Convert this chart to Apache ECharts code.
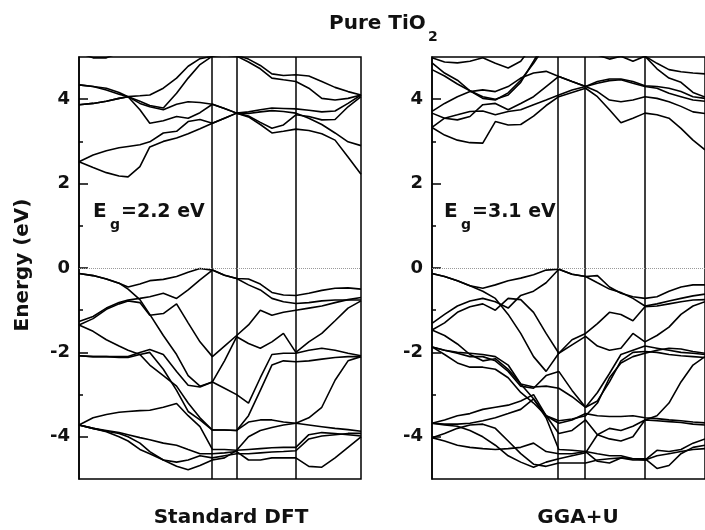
<!DOCTYPE html>
<html><head><meta charset="utf-8">
<script src="https://cdn.jsdelivr.net/npm/echarts@6/dist/echarts.min.js"></script>
<style>html,body{margin:0;padding:0;background:#fff}#c{width:705px;height:530px}</style>
</head><body><div id="c"></div>
<script>
// k-path positions (fraction of path length)
const kLeft = [0, .050, .097, .142, .174, .216, .251, .299, .346, .387, .429, .473, .516, .559, .601, .643, .684, .725, .769, .815, .861, .908, .954, 1];
const kRight = [0, .046, .093, .139, .186, .232, .279, .325, .372, .418, .4645, .513, .5626, .606, .650, .692, .736, .78, .824, .868, .912, .956, 1.0];
const symLeft = [0.473, 0.559, 0.769];
const symRight = [0.4645, 0.5626, 0.78];
const yTickLabels = [-4, -2, 0, 2, 4];
const yMinorTicks = [-3, -1, 1, 3];

// Standard DFT bands (eV)
const L_c1 = [2.52, 2.38, 2.26, 2.18, 2.16, 2.40, 2.87, 3.00, 3.08, 3.18, 3.30, 3.43, 3.55, 3.67, 3.58, 3.40, 3.20, 3.24, 3.29, 3.26, 3.18, 3.03, 2.63, 2.22];
const L_c2 = [2.52, 2.68, 2.78, 2.85, 2.88, 2.92, 2.99, 3.20, 3.24, 3.47, 3.52, 3.43, 3.55, 3.67, 3.70, 3.75, 3.79, 3.78, 3.77, 3.74, 3.70, 3.72, 3.90, 4.10];
const L_c3 = [4.34, 4.30, 4.26, 4.16, 4.06, 3.75, 3.43, 3.49, 3.59, 3.55, 3.68, 3.88, 3.78, 3.67, 3.60, 3.45, 3.31, 3.39, 3.63, 3.59, 3.51, 3.52, 3.82, 4.06];
const L_c4 = [3.87, 3.90, 3.95, 4.02, 4.06, 3.90, 3.82, 3.75, 3.88, 3.94, 3.92, 3.88, 3.78, 3.67, 3.66, 3.70, 3.73, 3.71, 3.67, 3.55, 3.40, 3.20, 2.99, 2.90];
const L_c5 = [4.34, 4.30, 4.22, 4.12, 4.06, 4.08, 4.10, 4.26, 4.50, 4.78, 4.96, 5.02, 5.05, 5.02, 4.88, 4.72, 4.50, 4.46, 4.42, 4.26, 4.02, 3.98, 4.02, 4.10];
const L_c6 = [3.87, 3.90, 3.95, 4.02, 4.06, 3.95, 3.85, 3.79, 4.14, 4.50, 4.82, 5.02, 5.10, 5.04, 4.95, 4.80, 4.60, 4.56, 4.58, 4.55, 4.42, 4.28, 4.18, 4.10];
const L_c7 = [5.10, 4.98, 4.98, 5.10, 5.4, 5.5, 5.5, 5.5, 5.5, 5.5, 5.5, 5.5, 5.5, 5.5, 5.5, 5.5, 5.5, 5.5, 5.5, 5.5, 5.5, 5.5, 5.5, 5.5];
const L_v1 = [-0.13, -0.18, -0.26, -0.36, -0.45, -0.38, -0.30, -0.27, -0.20, -0.10, -0.01, -0.05, -0.17, -0.25, -0.26, -0.38, -0.58, -0.64, -0.65, -0.60, -0.53, -0.48, -0.47, -0.50];
const L_v2 = [-0.13, -0.18, -0.26, -0.36, -0.50, -0.75, -1.10, -1.60, -2.05, -2.55, -2.80, -2.70, -2.85, -3.00, -3.20, -2.60, -2.05, -2.02, -2.02, -1.95, -1.90, -1.95, -2.02, -2.08];
const L_v3 = [-1.27, -1.15, -0.95, -0.82, -0.76, -0.72, -0.68, -0.60, -0.72, -0.52, -0.28, -0.05, -0.17, -0.25, -0.40, -0.52, -0.72, -0.80, -0.84, -0.82, -0.78, -0.76, -0.76, -0.76];
const L_v4 = [-1.35, -1.20, -0.98, -0.85, -0.78, -0.82, -1.12, -1.08, -0.85, -1.30, -1.75, -2.10, -1.85, -1.60, -1.35, -1.00, -1.12, -1.05, -1.00, -0.95, -0.90, -0.82, -0.75, -0.70];
const L_v5 = [-1.35, -1.50, -1.70, -1.85, -1.95, -2.05, -2.30, -2.55, -2.80, -3.20, -3.55, -3.84, -3.84, -3.85, -3.65, -3.60, -3.60, -3.65, -3.68, -3.72, -3.76, -3.80, -3.83, -3.87];
const L_v6 = [-2.08, -2.10, -2.10, -2.10, -2.10, -2.00, -1.93, -2.05, -2.45, -2.78, -2.82, -2.70, -2.20, -1.63, -1.79, -1.90, -1.75, -1.55, -2.00, -1.75, -1.55, -1.25, -0.95, -0.78];
const L_v7 = [-2.08, -2.10, -2.10, -2.12, -2.12, -2.05, -2.00, -2.40, -2.90, -3.40, -3.60, -3.84, -3.84, -3.85, -3.50, -2.90, -2.30, -2.20, -2.22, -2.20, -2.16, -2.12, -2.10, -2.10];
const L_v8 = [-3.72, -3.55, -3.47, -3.42, -3.40, -3.38, -3.37, -3.30, -3.21, -3.50, -3.76, -4.30, -4.30, -4.32, -4.30, -4.28, -4.26, -4.25, -4.25, -3.95, -3.90, -3.92, -3.95, -3.98];
const L_v9 = [-3.72, -3.80, -3.85, -3.90, -3.95, -4.02, -4.07, -4.15, -4.20, -4.30, -4.40, -4.40, -4.38, -4.35, -4.55, -4.55, -4.50, -4.50, -4.50, -4.70, -4.72, -4.50, -4.25, -4.00];
const L_v10 = [-3.72, -3.80, -3.87, -3.92, -4.00, -4.15, -4.35, -4.55, -4.60, -4.55, -4.45, -4.50, -4.45, -4.40, -4.40, -4.38, -4.36, -4.35, -4.33, -4.05, -3.98, -3.95, -3.92, -3.92];
const L_v11 = [-3.72, -3.80, -3.88, -4.00, -4.10, -4.30, -4.40, -4.55, -4.70, -4.78, -4.68, -4.55, -4.50, -4.32, -4.00, -3.85, -3.78, -3.72, -3.68, -3.55, -3.30, -2.66, -2.20, -2.10];

// GGA+U bands (eV)
const R_c1 = [3.33, 3.15, 3.03, 2.97, 2.96, 3.47, 3.39, 3.40, 3.60, 3.85, 4.06, 4.16, 4.26, 4.06, 3.75, 3.44, 3.55, 3.67, 3.63, 3.55, 3.31, 3.03, 2.80];
const R_c2 = [3.33, 3.55, 3.63, 3.71, 3.72, 3.63, 3.71, 3.75, 3.87, 3.98, 4.10, 4.22, 4.30, 4.18, 3.98, 3.94, 3.98, 4.06, 4.02, 3.94, 3.83, 3.70, 3.66];
const R_c3 = [3.67, 3.55, 3.51, 3.59, 3.87, 3.90, 3.75, 3.90, 4.06, 4.30, 4.54, 4.42, 4.30, 4.38, 4.44, 4.46, 4.38, 4.30, 4.26, 4.14, 4.06, 3.98, 3.95];
const R_c4 = [3.71, 3.90, 4.06, 4.18, 4.22, 4.18, 4.30, 4.50, 4.62, 4.66, 4.54, 4.42, 4.30, 4.42, 4.48, 4.48, 4.42, 4.32, 4.30, 4.26, 4.18, 4.06, 4.02];
const R_c5 = [4.70, 4.55, 4.36, 4.20, 4.06, 4.00, 4.10, 4.40, 4.90, 5.40, 5.50, 5.50, 5.50, 5.40, 5.30, 5.20, 5.10, 5.02, 4.72, 4.50, 4.40, 4.16, 4.05];
const R_c6 = [4.86, 4.62, 4.45, 4.20, 4.02, 3.98, 4.15, 4.45, 4.85, 5.30, 5.40, 5.40, 5.30, 5.05, 4.95, 5.02, 4.90, 5.02, 4.85, 4.70, 4.65, 4.62, 4.60];
const R_c7 = [4.98, 4.88, 4.86, 4.90, 4.98, 4.85, 4.74, 4.90, 5.30, 5.50, 5.50, 5.50, 5.50, 5.50, 5.50, 5.50, 5.50, 5.50, 5.50, 5.50, 5.50, 5.50, 5.50];
const R_v1 = [-0.13, -0.20, -0.30, -0.42, -0.48, -0.40, -0.30, -0.24, -0.16, -0.05, -0.03, -0.15, -0.20, -0.18, -0.45, -0.60, -0.68, -0.72, -0.68, -0.55, -0.45, -0.40, -0.40];
const R_v2 = [-0.13, -0.20, -0.30, -0.42, -0.55, -0.72, -1.10, -1.55, -2.10, -2.45, -2.02, -1.70, -1.55, -1.32, -1.05, -1.10, -1.25, -0.92, -0.90, -0.85, -0.80, -0.76, -0.75];
const R_v3 = [-1.31, -1.10, -0.90, -0.78, -0.72, -0.80, -0.95, -0.65, -0.55, -0.35, -0.03, -0.15, -0.20, -0.35, -0.50, -0.58, -0.72, -0.90, -0.85, -0.78, -0.72, -0.66, -0.62];
const R_v4 = [-1.47, -1.30, -1.05, -0.92, -0.85, -1.00, -0.72, -0.75, -1.05, -1.55, -2.02, -1.82, -1.62, -1.85, -1.95, -1.90, -1.55, -1.75, -1.60, -1.40, -1.10, -0.90, -0.80];
const R_v5 = [-1.47, -1.60, -1.80, -2.05, -2.20, -2.15, -2.40, -2.75, -3.10, -3.50, -3.68, -3.60, -3.45, -3.50, -3.52, -3.52, -3.50, -3.55, -3.57, -3.60, -3.62, -3.65, -3.67];
const R_v6 = [-1.87, -1.95, -2.00, -2.02, -2.05, -2.10, -2.30, -2.75, -2.82, -2.80, -2.85, -3.05, -3.30, -2.95, -2.50, -2.05, -1.95, -1.85, -1.90, -1.95, -2.00, -2.02, -2.05];
const R_v7 = [-1.87, -1.95, -2.02, -2.10, -2.10, -2.20, -2.45, -2.80, -2.85, -2.55, -2.45, -2.90, -3.30, -3.15, -2.70, -2.20, -2.00, -1.98, -2.00, -2.05, -2.08, -2.10, -2.12];
const R_v8 = [-3.68, -3.70, -3.70, -3.68, -3.62, -3.55, -3.45, -3.35, -3.10, -3.55, -4.30, -4.32, -4.35, -4.40, -4.45, -4.45, -4.52, -4.55, -4.45, -4.40, -4.35, -4.30, -4.28];
const R_v9 = [-4.02, -3.92, -3.80, -3.72, -3.70, -3.80, -4.10, -4.40, -4.65, -4.70, -4.62, -4.62, -4.62, -4.55, -4.52, -4.50, -4.55, -4.55, -4.32, -4.35, -4.30, -4.15, -4.05];
const R_v10 = [-4.02, -4.10, -4.20, -4.25, -4.28, -4.30, -4.28, -4.25, -4.15, -4.35, -4.40, -4.40, -4.35, -4.58, -4.62, -4.50, -4.52, -4.52, -4.75, -4.68, -4.40, -4.25, -4.20];
const R_v11 = [-3.68, -3.72, -3.75, -3.85, -4.00, -4.20, -4.45, -4.60, -4.72, -4.60, -4.52, -4.45, -4.38, -3.95, -3.80, -3.85, -3.75, -3.60, -3.62, -3.64, -3.66, -3.70, -3.72];
const R_v12 = [-1.87, -2.05, -2.25, -2.35, -2.35, -2.40, -2.60, -2.95, -3.20, -3.50, -3.62, -3.58, -3.50, -3.20, -2.60, -2.25, -2.10, -2.02, -1.95, -1.90, -1.92, -1.98, -2.02];
const R_v13 = [-3.68, -3.60, -3.50, -3.45, -3.35, -3.30, -3.25, -3.15, -3.00, -3.50, -3.92, -3.85, -3.60, -3.95, -4.05, -4.10, -4.00, -3.60, -3.50, -3.20, -2.70, -2.30, -2.10];

const leftBands = [L_c1, L_c2, L_c3, L_c4, L_c5, L_c6, L_c7, L_v1, L_v2, L_v3, L_v4, L_v5, L_v6, L_v7, L_v8, L_v9, L_v10, L_v11];
const rightBands = [R_c1, R_c2, R_c3, R_c4, R_c5, R_c6, R_c7, R_v1, R_v2, R_v3, R_v4, R_v5, R_v6, R_v7, R_v8, R_v9, R_v10, R_v11, R_v12, R_v13];

const FONT = 'DejaVu Sans';
const chart = echarts.init(document.getElementById('c'), null, {renderer: 'canvas'});

function grids() {
  const g = {top: 57, height: 422, width: 282, show: true, borderColor: '#000', borderWidth: 1.5, backgroundColor: 'transparent'};
  return [Object.assign({left: 79}, g), Object.assign({left: 432}, g)];
}
function xAxes() {
  return [0, 1].map(i => ({type: 'value', gridIndex: i, min: 0, max: 1, show: false}));
}
function yAxes() {
  const out = [];
  [0, 1].forEach(i => {
    out.push({type: 'value', gridIndex: i, min: -5, max: 5, interval: 1,
      axisLine: {show: true, lineStyle: {color: '#000', width: 1.5}},
      splitLine: {show: false},
      axisTick: {show: true, inside: true, length: 9, customValues: yTickLabels, lineStyle: {color: '#000', width: 1.5}},
      axisLabel: {show: true, customValues: yTickLabels, margin: 9, color: '#111', fontFamily: FONT, fontWeight: 'bold', fontSize: 18}
    });
    out.push({type: 'value', gridIndex: i, min: -5, max: 5, interval: 1, position: 'left',
      axisLine: {show: false}, splitLine: {show: false}, axisLabel: {show: false},
      axisTick: {show: true, inside: true, length: 4, customValues: yMinorTicks, lineStyle: {color: '#000', width: 1.5}}
    });
  });
  return out;
}

const series = [];
function addBands(bands, k, gi) {
  bands.forEach(b => {
    series.push({type: 'line', xAxisIndex: gi, yAxisIndex: gi * 2, showSymbol: false, silent: true, clip: true,
      data: b.map((e, i) => [k[i], e]),
      lineStyle: {color: '#000', width: 1.6}});
  });
}
function addGuides(sym, gi) {
  series.push({type: 'line', xAxisIndex: gi, yAxisIndex: gi * 2, data: [], silent: true,
    markLine: {silent: true, symbol: 'none', animation: false, label: {show: false},
      data: sym.map(s => ({xAxis: s, lineStyle: {color: '#000', width: 1.5, type: 'solid'}}))
        .concat([{yAxis: 0, lineStyle: {color: '#999', width: 1, type: [1, 1]}}])}});
}
addGuides(symLeft, 0); addGuides(symRight, 1);
addBands(leftBands, kLeft, 0); addBands(rightBands, kRight, 1);

function txt(x, y, s, size, extra) {
  return Object.assign({type: 'text', x: x, y: y, silent: true,
    style: {text: s, fill: '#111', font: 'bold ' + size + 'px "' + FONT + '"', textAlign: 'left', textVerticalAlign: 'middle'}}, extra || {});
}
const graphics = [
  txt(329, 24, 'Pure TiO', 20),
  txt(428, 37.5, '2', 14),
  txt(93, 212, 'E', 20), txt(110, 225, 'g', 14), txt(121, 212, '=2.2 eV', 19),
  txt(444, 212, 'E', 20), txt(461, 225, 'g', 14), txt(472, 212, '=3.1 eV', 19),
  txt(231, 518, 'Standard DFT', 20),
  txt(578, 518, 'GGA+U', 20),
  txt(23, 265, 'Energy (eV)', 20, {rotation: Math.PI / 2})
];
graphics[8].style.textAlign = 'center';
graphics[9].style.textAlign = 'center';
graphics[10].style.textAlign = 'center';

chart.setOption({
  animation: false,
  backgroundColor: '#fff',
  grid: grids(), xAxis: xAxes(), yAxis: yAxes(),
  series: series,
  graphic: graphics
});
</script>
</body></html>
